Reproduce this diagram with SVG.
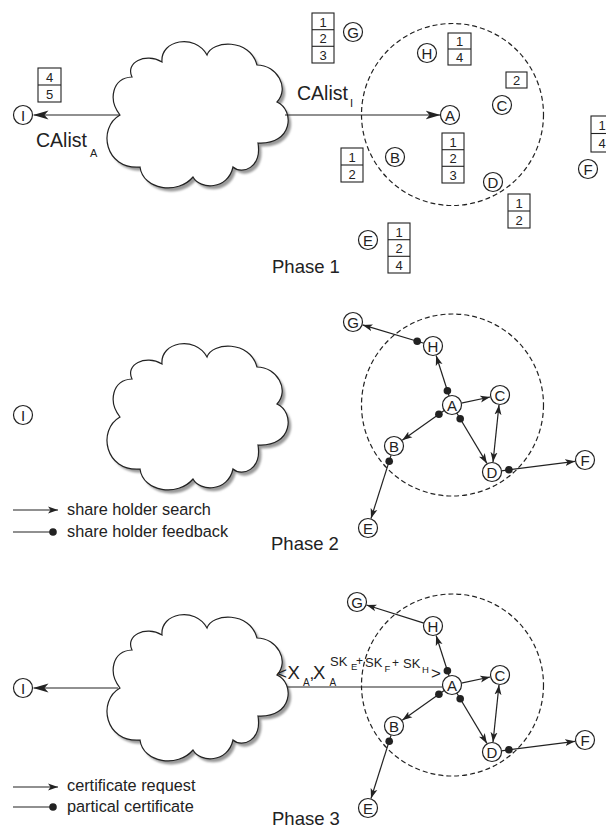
<svg xmlns="http://www.w3.org/2000/svg" xmlns:xlink="http://www.w3.org/1999/xlink" width="606" height="830" viewBox="0 0 606 830">
  <style>
    text { font-family: "Liberation Sans", Arial, sans-serif; fill: #222; }
    .node circle { fill: #fff; stroke: #222; stroke-width: 1.2; }
    .node text { font-size: 15px; text-anchor: middle; }
    .box rect { fill: #fff; stroke: #222; stroke-width: 1.1; }
    .box line { stroke: #222; stroke-width: 1.1; }
    .box text { font-size: 13px; text-anchor: middle; }
    .edge { stroke: #222; stroke-width: 1.2; fill: none; }
    .arr { marker-end: url(#ah); }
    .arrL { marker-end: url(#ahL); }
    .both { marker-start: url(#ah); marker-end: url(#ah); }
    .dot { fill: #222; }
    .ring { fill: none; stroke: #222; stroke-width: 1.2; stroke-dasharray: 5 3; }
    .cloud { fill: #fff; stroke: #222; stroke-width: 1.2; }
    .cloud-shadow { fill: #9a9a9a; stroke: none; }
    .phase { font-size: 18.5px; }
    .legend { font-size: 16.3px; }
    .lbl { font-size: 19.5px; }
    .sub { font-size: 11px; }
  </style>
  <defs>
    <marker id="ah" markerUnits="userSpaceOnUse" markerWidth="10" markerHeight="8" refX="10" refY="4" orient="auto-start-reverse">
      <path d="M0,0.5 L10,4 L0,7.5 L2.5,4 Z" fill="#222"/>
    </marker>
    <marker id="ahL" markerUnits="userSpaceOnUse" markerWidth="15" markerHeight="10" refX="15" refY="5" orient="auto">
      <path d="M0,0.5 L15,5 L0,9.5 L4,5 Z" fill="#222"/>
    </marker>
    <filter id="soft" x="-10%" y="-10%" width="120%" height="120%">
      <feGaussianBlur stdDeviation="1"/>
    </filter>
    <path id="cloudShape" d="M120,115 C108,100 112,78 132,77 C125,63 145,52 162,62 C160,40 195,33 207,55 C212,40 250,38 257,65 C277,65 290,88 277,102 C295,110 293,145 258,143 C262,168 242,175 233,167 C228,190 200,190 193,177 C178,195 143,190 140,167 C105,170 97,128 120,115 Z"/>
  </defs>

  <!-- ===================== Phase 1 ===================== -->
  <g id="phase1">
    <g id="p1-cloud">
      <use xlink:href="#cloudShape" class="cloud-shadow" transform="translate(3,3.5)" filter="url(#soft)"/>
      <use xlink:href="#cloudShape" class="cloud"/>
    </g>
    <circle class="ring" cx="452.5" cy="114.5" r="91"/>

    <g id="p1-connectors">
      <line class="edge arrL" x1="120" y1="115" x2="33.5" y2="115"/>
      <line class="edge arrL" x1="285" y1="115" x2="440.5" y2="115"/>
    </g>

    <text class="lbl" x="36" y="147">CAlist<tspan class="sub" x="90" y="156.5">A</tspan></text>
    <text class="lbl" x="297" y="100">CAlist<tspan class="sub" x="350" y="106.5">I</tspan></text>

    <g id="p1-I" class="node"><circle cx="23" cy="115" r="9.5"/><text x="23" y="120.5">I</text></g>
    <g id="p1-A" class="node"><circle cx="450" cy="115" r="9.5"/><text x="450" y="120.5">A</text></g>
    <g id="p1-B" class="node"><circle cx="395" cy="157" r="9.5"/><text x="395" y="162.5">B</text></g>
    <g id="p1-C" class="node"><circle cx="502" cy="105" r="9.5"/><text x="502" y="110.5">C</text></g>
    <g id="p1-D" class="node"><circle cx="493" cy="182" r="9.5"/><text x="493" y="187.5">D</text></g>
    <g id="p1-E" class="node"><circle cx="368" cy="240" r="9.5"/><text x="368" y="245.5">E</text></g>
    <g id="p1-F" class="node"><circle cx="588" cy="169" r="9.5"/><text x="588" y="174.5">F</text></g>
    <g id="p1-G" class="node"><circle cx="353" cy="32" r="9.5"/><text x="353" y="37.5">G</text></g>
    <g id="p1-H" class="node"><circle cx="427" cy="53" r="9.5"/><text x="427" y="58.5">H</text></g>

    <!-- share tables held by each node -->
    <g id="p1-box-I" class="box">
      <rect x="38" y="68" width="23" height="34"/><line x1="38" y1="85" x2="61" y2="85"/>
      <text x="49.5" y="81.5">4</text><text x="49.5" y="98.5">5</text>
    </g>
    <g id="p1-box-G" class="box">
      <rect x="312" y="13" width="22" height="50"/><line x1="312" y1="29.7" x2="334" y2="29.7"/><line x1="312" y1="46.3" x2="334" y2="46.3"/>
      <text x="323" y="26.5">1</text><text x="323" y="43">2</text><text x="323" y="59.5">3</text>
    </g>
    <g id="p1-box-H" class="box">
      <rect x="448" y="33" width="23" height="32"/><line x1="448" y1="49" x2="471" y2="49"/>
      <text x="459.5" y="46">1</text><text x="459.5" y="62">4</text>
    </g>
    <g id="p1-box-C" class="box">
      <rect x="506" y="72" width="21" height="16"/>
      <text x="516.5" y="85">2</text>
    </g>
    <g id="p1-box-B" class="box">
      <rect x="341" y="148" width="22" height="34"/><line x1="341" y1="165" x2="363" y2="165"/>
      <text x="352" y="161.5">1</text><text x="352" y="178.5">2</text>
    </g>
    <g id="p1-box-A" class="box">
      <rect x="442" y="133" width="22" height="50"/><line x1="442" y1="149.7" x2="464" y2="149.7"/><line x1="442" y1="166.3" x2="464" y2="166.3"/>
      <text x="453" y="146.5">1</text><text x="453" y="163">2</text><text x="453" y="179.5">3</text>
    </g>
    <g id="p1-box-D" class="box">
      <rect x="508" y="194" width="22" height="34"/><line x1="508" y1="211" x2="530" y2="211"/>
      <text x="519" y="207.5">1</text><text x="519" y="224.5">2</text>
    </g>
    <g id="p1-box-E" class="box">
      <rect x="388" y="223" width="22" height="50"/><line x1="388" y1="239.7" x2="410" y2="239.7"/><line x1="388" y1="256.3" x2="410" y2="256.3"/>
      <text x="399" y="236.5">1</text><text x="399" y="253">2</text><text x="399" y="269.5">4</text>
    </g>
    <g id="p1-box-F" class="box">
      <rect x="591" y="116" width="22" height="36"/><line x1="591" y1="133.5" x2="613" y2="133.5" stroke-width="1.8"/>
      <text x="602" y="130">1</text><text x="602" y="148">4</text>
    </g>

    <text class="phase" x="272" y="273">Phase 1</text>
  </g>

  <!-- ===================== Phase 2 ===================== -->
  <g id="phase2">
    <g id="p2-cloud">
      <use xlink:href="#cloudShape" class="cloud-shadow" transform="translate(3,305.5)" filter="url(#soft)"/>
      <use xlink:href="#cloudShape" class="cloud" transform="translate(0,302)"/>
    </g>
    <circle class="ring" cx="452.5" cy="405" r="91"/>

    <g id="p2-connectors">
      <line class="edge arr" x1="449.1" y1="396" x2="436.1" y2="355.5"/>
      <circle class="dot" cx="447.4" cy="390.7" r="3.8"/>
      <line class="edge arr" x1="423.9" y1="343.3" x2="362.6" y2="324.9"/>
      <circle class="dot" cx="417.2" cy="341.3" r="3.8"/>
      <line class="edge arr" x1="461.3" y1="403.1" x2="490.2" y2="397"/>
      <line class="edge arr" x1="444.2" y1="410.5" x2="402.2" y2="440.2"/>
      <circle class="dot" cx="438.9" cy="414.2" r="3.8"/>
      <line class="edge arr" x1="456.9" y1="413.2" x2="486.9" y2="463.4"/>
      <circle class="dot" cx="460.2" cy="418.7" r="3.8"/>
      <line class="edge both" x1="499" y1="404.9" x2="493" y2="462.1"/>
      <line class="edge arr" x1="501.4" y1="470.8" x2="575.1" y2="461.3"/>
      <circle class="dot" cx="508.9" cy="469.8" r="3.8"/>
      <line class="edge arr" x1="391.1" y1="455.1" x2="371" y2="518.5"/>
      <circle class="dot" cx="389.2" cy="461.3" r="3.8"/>
    </g>

    <g id="p2-I" class="node"><circle cx="23" cy="415" r="9.5"/><text x="23" y="420.5">I</text></g>
    <g id="p2-A" class="node"><circle cx="452" cy="405" r="9.5"/><text x="452" y="410.5">A</text></g>
    <g id="p2-B" class="node"><circle cx="394" cy="446" r="9.5"/><text x="394" y="451.5">B</text></g>
    <g id="p2-C" class="node"><circle cx="500" cy="395" r="9.5"/><text x="500" y="400.5">C</text></g>
    <g id="p2-D" class="node"><circle cx="492" cy="472" r="9.5"/><text x="492" y="477.5">D</text></g>
    <g id="p2-E" class="node"><circle cx="368" cy="528" r="9.5"/><text x="368" y="533.5">E</text></g>
    <g id="p2-F" class="node"><circle cx="585" cy="460" r="9.5"/><text x="585" y="465.5">F</text></g>
    <g id="p2-G" class="node"><circle cx="353" cy="322" r="9.5"/><text x="353" y="327.5">G</text></g>
    <g id="p2-H" class="node"><circle cx="433" cy="346" r="9.5"/><text x="433" y="351.5">H</text></g>

    <g id="p2-legend">
      <line class="edge arr" x1="13" y1="510" x2="58" y2="510"/>
      <text class="legend" x="67" y="515">share holder search</text>
      <line class="edge" x1="13" y1="532" x2="53" y2="532"/>
      <circle class="dot" cx="53" cy="532" r="3.8"/>
      <text class="legend" x="67" y="537">share holder feedback</text>
    </g>

    <text class="phase" x="271" y="550">Phase 2</text>
  </g>

  <!-- ===================== Phase 3 ===================== -->
  <g id="phase3">
    <g id="p3-cloud">
      <use xlink:href="#cloudShape" class="cloud-shadow" transform="translate(3,576.5)" filter="url(#soft)"/>
      <use xlink:href="#cloudShape" class="cloud" transform="translate(0,573)"/>
    </g>
    <circle class="ring" cx="452.5" cy="685" r="91"/>

    <g id="p3-connectors">
      <line class="edge arrL" x1="118" y1="688" x2="33.5" y2="688"/>
      <line class="edge" x1="287" y1="687" x2="442.7" y2="687"/>
      <line class="edge arr" x1="449.1" y1="676" x2="436.1" y2="635.5"/>
      <circle class="dot" cx="447.4" cy="670.7" r="3.8"/>
      <line class="edge arr" x1="423.9" y1="623.1" x2="366.5" y2="605"/>
      <line class="edge arr" x1="461.3" y1="683.1" x2="490.2" y2="677"/>
      <line class="edge arr" x1="444.2" y1="690.5" x2="402.2" y2="720.2"/>
      <circle class="dot" cx="438.9" cy="694.2" r="3.8"/>
      <line class="edge arr" x1="456.9" y1="693.2" x2="486.9" y2="743.4"/>
      <circle class="dot" cx="460.2" cy="698.7" r="3.8"/>
      <line class="edge both" x1="499" y1="684.9" x2="493" y2="742.1"/>
      <line class="edge arr" x1="501.4" y1="750.8" x2="575.1" y2="741.3"/>
      <circle class="dot" cx="508.9" cy="749.8" r="3.8"/>
      <line class="edge arr" x1="391.1" y1="735.1" x2="371" y2="798.5"/>
      <circle class="dot" cx="389.2" cy="741.3" r="3.8"/>
    </g>

    <!-- partial certificate message -->
    <g id="p3-label">
      <text x="277" y="679" font-size="17">&lt;</text>
      <text x="287.5" y="678.5" font-size="18.5">X</text>
      <text x="303" y="685.5" font-size="10">A</text>
      <text x="309.5" y="679" font-size="17">,</text>
      <text x="313" y="678.5" font-size="18.5">X</text>
      <text x="329.5" y="685.5" font-size="10">A</text>
      <text x="330" y="666" font-size="13">SK</text>
      <text x="351" y="670" font-size="9.5">E</text>
      <text x="356" y="665" font-size="12">+</text>
      <text x="365" y="667" font-size="13">SK</text>
      <text x="384.5" y="671.5" font-size="9.5">F</text>
      <text x="392" y="667" font-size="12">+</text>
      <text x="403" y="668" font-size="13">SK</text>
      <text x="422" y="673" font-size="9.5">H</text>
      <text x="431" y="679" font-size="17">&gt;</text>
    </g>

    <g id="p3-I" class="node"><circle cx="23" cy="688" r="9.5"/><text x="23" y="693.5">I</text></g>
    <g id="p3-A" class="node"><circle cx="452" cy="685" r="9.5"/><text x="452" y="690.5">A</text></g>
    <g id="p3-B" class="node"><circle cx="394" cy="726" r="9.5"/><text x="394" y="731.5">B</text></g>
    <g id="p3-C" class="node"><circle cx="500" cy="675" r="9.5"/><text x="500" y="680.5">C</text></g>
    <g id="p3-D" class="node"><circle cx="492" cy="752" r="9.5"/><text x="492" y="757.5">D</text></g>
    <g id="p3-E" class="node"><circle cx="368" cy="808" r="9.5"/><text x="368" y="813.5">E</text></g>
    <g id="p3-F" class="node"><circle cx="585" cy="740" r="9.5"/><text x="585" y="745.5">F</text></g>
    <g id="p3-G" class="node"><circle cx="357" cy="602" r="9.5"/><text x="357" y="607.5">G</text></g>
    <g id="p3-H" class="node"><circle cx="433" cy="626" r="9.5"/><text x="433" y="631.5">H</text></g>

    <g id="p3-legend">
      <line class="edge arr" x1="13" y1="787" x2="58" y2="787"/>
      <text class="legend" x="67" y="791">certificate request</text>
      <line class="edge" x1="13" y1="807" x2="53" y2="807"/>
      <circle class="dot" cx="53" cy="807" r="3.8"/>
      <text class="legend" x="67" y="811.5">partical certificate</text>
    </g>

    <text class="phase" x="272" y="825">Phase 3</text>
  </g>
</svg>
